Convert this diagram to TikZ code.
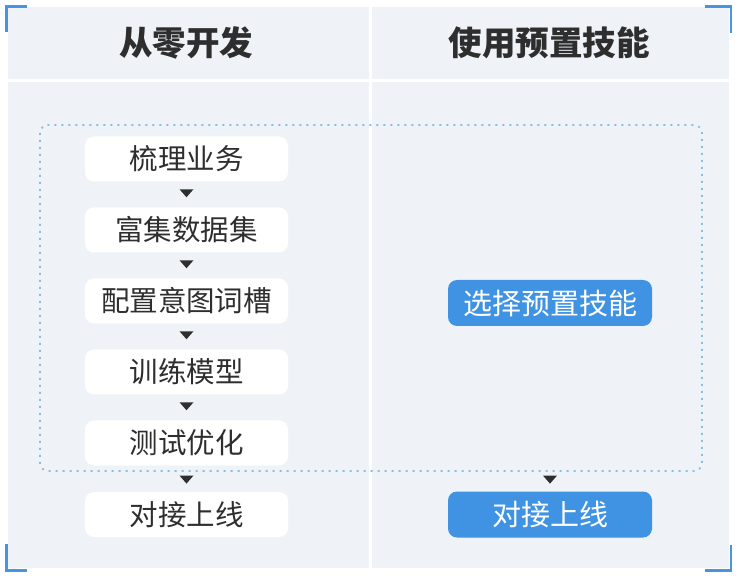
\documentclass[tikz,border=0pt]{standalone}
\usepackage{fontspec}
\newfontfamily\cjk{Noto Sans CJK SC}
\usetikzlibrary{shapes.geometric}
\definecolor{panelbg}{HTML}{EFF3F8}
\definecolor{txtdark}{HTML}{2E2E2E}
\definecolor{bluebox}{HTML}{3F93E2}
\definecolor{dotblue}{HTML}{86BDE3}
\definecolor{cornerblue}{HTML}{4A93E0}
\tikzset{
  whitebox/.style={fill=white, rounded corners=9pt, minimum width=203pt, minimum height=45pt,
    inner sep=0pt, text=txtdark, font=\cjk\fontsize{28.5}{30}\selectfont},
  bluestep/.style={fill=bluebox, rounded corners=9pt, minimum width=204pt, minimum height=46pt,
    inner sep=0pt, text=white, font=\cjk\fontsize{29}{30}\selectfont},
  header/.style={text=txtdark, inner sep=0pt, font=\cjk\bfseries\fontsize{33.5}{36}\selectfont},
  tri/.style={isosceles triangle, isosceles triangle stretches=true, shape border rotate=-90,
    minimum width=14pt, minimum height=8pt, inner sep=0pt, fill=txtdark, draw=none},
  corner/.style={draw=cornerblue, line width=2.2pt},
  sep/.style={draw=white, line width=3pt},
  dotframe/.style={draw=dotblue, line width=1.7pt, dash pattern=on 2pt off 5pt, rounded corners=8pt}
}
\begin{document}
\begin{tikzpicture}[x=1pt,y=-1pt]
\useasboundingbox (0,0) rectangle (740,580);
% panel
\fill[panelbg] (8,7) rectangle (729,568);
\draw[sep] (370,7) -- (370,568);
\draw[sep] (8,80.5) -- (729,80.5);
% corners
\draw[corner] (6.5,32) -- (6.5,6.5) -- (27,6.5);
\draw[corner] (705,6.5) -- (731,6.5) -- (731,33);
\draw[corner] (6.5,544) -- (6.5,570.5) -- (27,570.5);
\draw[corner] (705,570.5) -- (731,570.5) -- (731,545);
% headers
\node[header] (h1) at (186,43) {从零开发};
\node[header] (h2) at (549,43) {使用预置技能};
% dotted frame
\draw[dotframe] (40,125) rectangle (702,471);
% left column
\node[whitebox] (a1) at (186.5,159) {梳理业务};
\node[whitebox] (a2) at (186.5,230) {富集数据集};
\node[whitebox] (a3) at (186.5,301) {配置意图词槽};
\node[whitebox] (a4) at (186.5,372) {训练模型};
\node[whitebox] (a5) at (186.5,443) {测试优化};
\node[whitebox] (a6) at (186.5,514.5) {对接上线};
% right column
\node[bluestep] (b1) at (550,303) {选择预置技能};
\node[bluestep] (b2) at (550,514.5) {对接上线};
% arrow tips
\path (a1.south) -- (a2.north) node[tri, pos=0.42] (t1) {};
\path (a2.south) -- (a3.north) node[tri, pos=0.42] (t2) {};
\path (a3.south) -- (a4.north) node[tri, pos=0.42] (t3) {};
\path (a4.south) -- (a5.north) node[tri, pos=0.42] (t4) {};
\path (a5.south) -- (a6.north) node[tri, pos=0.5] (t5) {};
\coordinate (b2top) at ([yshift=12.5pt]b2.north);
\path (b1.south) -- (b2top) node[tri, pos=1] (t6) {};
\end{tikzpicture}
\end{document}
